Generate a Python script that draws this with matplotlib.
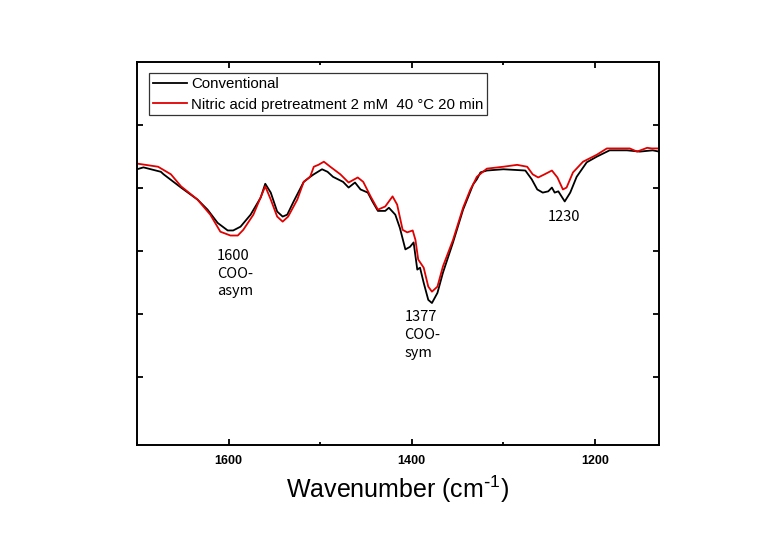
import matplotlib
matplotlib.use("Agg")
import matplotlib.pyplot as plt
from matplotlib.ticker import MultipleLocator

plt.rcParams['font.family'] = ['Liberation Sans', 'DejaVu Sans']
plt.rcParams['mathtext.default'] = 'regular'

# wavenumber (cm-1) and intensity (arb. units)
wn_conv = [1700, 1693, 1674, 1671, 1652, 1634, 1623, 1612, 1601, 1595, 1587, 1576,
           1565, 1560, 1554, 1547, 1541, 1536, 1529, 1518, 1511, 1507, 1498, 1492,
           1486, 1475, 1469, 1462, 1456, 1448, 1443, 1437, 1429, 1425, 1418, 1413,
           1407, 1402, 1398, 1394, 1391, 1387, 1382, 1378, 1372, 1366, 1355, 1344,
           1336, 1333, 1329, 1325, 1318, 1300, 1276, 1269, 1263, 1257, 1251, 1247,
           1244, 1240, 1233, 1227, 1220, 1209, 1198, 1184, 1165, 1151, 1137, 1130]
conv = [4.30, 4.33, 4.26, 4.22, 4.01, 3.82, 3.66, 3.45, 3.33, 3.33, 3.39, 3.58,
        3.85, 4.07, 3.93, 3.63, 3.55, 3.58, 3.79, 4.10, 4.18, 4.22, 4.30, 4.26,
        4.18, 4.10, 4.01, 4.09, 3.98, 3.93, 3.79, 3.64, 3.64, 3.69, 3.58, 3.37,
        3.03, 3.07, 3.14, 2.71, 2.74, 2.50, 2.23, 2.18, 2.34, 2.66, 3.14, 3.66,
        3.95, 4.06, 4.14, 4.25, 4.28, 4.30, 4.28, 4.14, 3.98, 3.93, 3.95, 4.01,
        3.93, 3.95, 3.79, 3.93, 4.18, 4.41, 4.50, 4.60, 4.60, 4.58, 4.60, 4.58]

wn_nitric = [1700, 1677, 1663, 1652, 1634, 1620, 1609, 1598, 1590, 1584, 1573, 1560,
             1554, 1547, 1541, 1535, 1525, 1518, 1511, 1507, 1502, 1496, 1489, 1478,
             1469, 1459, 1453, 1445, 1437, 1429, 1421, 1416, 1410, 1405, 1399, 1396,
             1393, 1387, 1382, 1378, 1372, 1366, 1355, 1344, 1336, 1333, 1329, 1318,
             1300, 1285, 1274, 1268, 1262, 1255, 1247, 1241, 1235, 1231, 1224, 1213,
             1198, 1187, 1162, 1154, 1143, 1138, 1130]
nitric = [4.39, 4.34, 4.22, 4.03, 3.82, 3.58, 3.31, 3.25, 3.25, 3.34, 3.58, 4.03,
          3.82, 3.55, 3.47, 3.55, 3.82, 4.10, 4.18, 4.34, 4.37, 4.42, 4.34, 4.22,
          4.09, 4.17, 4.10, 3.87, 3.66, 3.71, 3.87, 3.74, 3.34, 3.30, 3.33, 3.18,
          2.87, 2.74, 2.44, 2.36, 2.44, 2.76, 3.18, 3.69, 3.98, 4.06, 4.18, 4.31,
          4.34, 4.37, 4.34, 4.22, 4.17, 4.22, 4.28, 4.17, 3.98, 4.01, 4.25, 4.42,
          4.53, 4.63, 4.63, 4.58, 4.64, 4.63, 4.63]

peak_labels = ["1600\nCOO-\nasym", "1377\nCOO-\nsym", "1230"]
peak_x = [1613, 1408, 1252]
peak_y = [3.04, 2.07, 3.66]

fig = plt.figure(figsize=(7.66, 5.34), dpi=100)
ax = fig.add_axes([0.1789, 0.1667, 0.6815, 0.7172])

ax.plot(wn_conv, conv, color='black', lw=1.3, label='Conventional')
ax.plot(wn_nitric, nitric, color='#e00000', lw=1.3,
        label='Nitric acid pretreatment 2 mM  40 °C 20 min')

for txt, px, py in zip(peak_labels, peak_x, peak_y):
    ax.text(px, py, txt, ha='left', va='top', fontsize=10.5, linespacing=1.35,
            family=['Noto Sans CJK KR', 'DejaVu Sans'])

ax.set_xlim(1700, 1130)
ax.set_ylim(-0.07, 6.0)
ax.xaxis.set_major_locator(MultipleLocator(200))
ax.xaxis.set_minor_locator(MultipleLocator(100))
ax.set_yticks([1, 2, 3, 4, 5])
ax.set_yticklabels([])

ax.tick_params(which='both', direction='in', top=True, right=True, width=1.3)
ax.tick_params(which='major', length=4.5, pad=7)
ax.tick_params(which='minor', length=2.5)
for lab in ax.get_xticklabels():
    lab.set_fontweight('bold')
    lab.set_fontsize(9)
for sp in ax.spines.values():
    sp.set_linewidth(1.4)

ax.set_xlabel(r'Wavenumber (cm$^{\text{-}1}$)', fontsize=18, labelpad=5)

leg = ax.legend(loc='upper left', bbox_to_anchor=(0.023, 0.971), borderaxespad=0,
                fontsize=10.8, frameon=True, fancybox=False, handlelength=2.3,
                handletextpad=0.25, borderpad=0.25, labelspacing=0.45)
leg.get_frame().set_edgecolor('black')
leg.get_frame().set_linewidth(0.9)

fig.savefig('out.png', dpi=100)
